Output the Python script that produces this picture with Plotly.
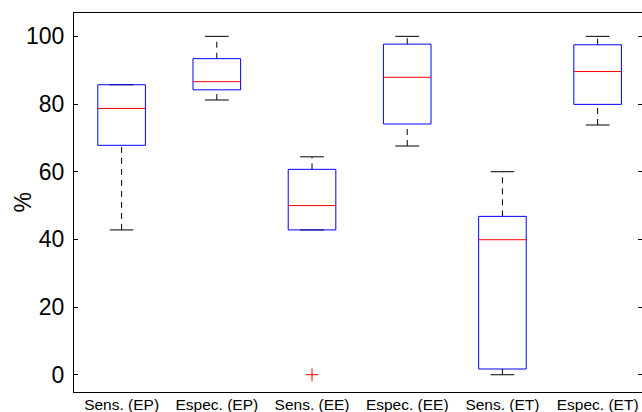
import plotly.graph_objects as go

categories = ["Sens. (EP)", "Espec. (EP)", "Sens. (EE)", "Espec. (EE)", "Sens. (ET)", "Espec. (ET)"]
lower_whisker = [42.8, 81.2, 42.8, 67.6, 0.0, 73.8]
q1 = [67.8, 84.2, 42.8, 74.1, 1.7, 79.9]
median = [78.7, 86.6, 50.0, 87.9, 39.9, 89.6]
q3 = [85.7, 93.4, 60.7, 97.7, 46.8, 97.5]
upper_whisker = [85.7, 100.0, 64.4, 100.0, 60.0, 100.0]
outlier_pos = [3]
outlier_val = [0.0]
y_ticks = [0, 20, 40, 60, 80, 100]
y_label = "%"

BOX_HALF = 0.25
CAP_HALF = 0.125
FONT = "Liberation Sans, Arial, sans-serif"
Y_RANGE = [-5.1, 106.9]

positions = list(range(1, len(categories) + 1))

# whisker stems (dashed)
wx, wy = [], []
for p, lo, a, b, hi in zip(positions, lower_whisker, q1, q3, upper_whisker):
    wx += [p, p, None, p, p, None]
    wy += [lo, a, None, b, hi, None]

# caps
cx, cy = [], []
for p, lo, hi in zip(positions, lower_whisker, upper_whisker):
    cx += [p - CAP_HALF, p + CAP_HALF, None, p - CAP_HALF, p + CAP_HALF, None]
    cy += [lo, lo, None, hi, hi, None]

# boxes
bx, by = [], []
for p, a, b in zip(positions, q1, q3):
    bx += [p - BOX_HALF, p + BOX_HALF, p + BOX_HALF, p - BOX_HALF, p - BOX_HALF, None]
    by += [a, a, b, b, a, None]

# medians
mx, my = [], []
for p, m in zip(positions, median):
    mx += [p - BOX_HALF, p + BOX_HALF, None]
    my += [m, m, None]

fig = go.Figure()
fig.add_trace(go.Scatter(x=wx, y=wy, mode="lines", line=dict(color="black", width=1, dash="6px,5px"),
                         hoverinfo="skip", showlegend=False))
fig.add_trace(go.Scatter(x=cx, y=cy, mode="lines", line=dict(color="black", width=1),
                         hoverinfo="skip", showlegend=False))
fig.add_trace(go.Scatter(x=bx, y=by, mode="lines", line=dict(color="#0000ff", width=1),
                         hoverinfo="skip", showlegend=False))
fig.add_trace(go.Scatter(x=mx, y=my, mode="lines", line=dict(color="#ff0000", width=1),
                         hoverinfo="skip", showlegend=False))
fig.add_trace(go.Scatter(x=outlier_pos, y=outlier_val, mode="markers",
                         marker=dict(symbol="cross-thin-open", size=9, color="#ff0000",
                                     line=dict(color="#ff0000", width=1)),
                         showlegend=False))

fig.update_layout(
    width=642, height=412,
    margin=dict(l=74, r=0, t=13, b=20, autoexpand=False),
    paper_bgcolor="white", plot_bgcolor="white",
    font=dict(family=FONT, color="black"),
    showlegend=False,
    yaxis2=dict(overlaying="y", side="right", range=Y_RANGE, tickmode="array",
                tickvals=y_ticks, showticklabels=False, ticks="inside", ticklen=4,
                tickcolor="black", showgrid=False, zeroline=False, showline=False,
                automargin=False),
    annotations=[dict(text=y_label, textangle=-90, xref="paper", yref="paper",
                      x=0, y=0.5, xanchor="center", yanchor="middle", xshift=-52,
                      showarrow=False, font=dict(size=23, family=FONT, color="black"))],
)
fig.update_xaxes(
    range=[0.5, 6.466], tickmode="array", tickvals=positions, ticktext=categories,
    showgrid=False, zeroline=False, showline=True, linecolor="black", linewidth=1,
    mirror=True, ticks="", tickfont=dict(size=15.5, family=FONT, color="black"),
    automargin=False, ticklabelstandoff=-2,
)
fig.update_yaxes(
    selector=dict(anchor="x"),
)
fig.layout.yaxis.update(
    range=Y_RANGE, tickmode="array", tickvals=y_ticks,
    showgrid=False, zeroline=False, showline=True, linecolor="black", linewidth=1,
    mirror=False, ticks="inside", ticklen=4, tickcolor="black",
    tickfont=dict(size=23, family=FONT, color="black"),
    automargin=False, ticklabelstandoff=4,
)
# invisible trace to activate the right-hand tick axis
fig.add_trace(go.Scatter(x=[None], y=[None], yaxis="y2", showlegend=False, hoverinfo="skip"))

fig.write_html(
    "out.html",
    config={"displayModeBar": False},
    post_script="document.body.style.margin='0';document.body.style.overflow='hidden';",
)
